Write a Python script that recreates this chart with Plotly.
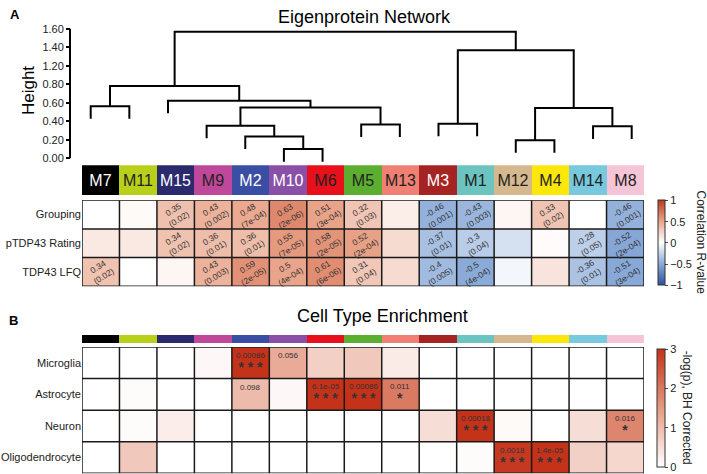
import numpy as np
import plotly.graph_objects as go

W, H = 707, 474
FONT = "Liberation Sans, Arial, sans-serif"

# ---- data ----
modules = ["M7", "M11", "M15", "M9", "M2", "M10", "M6", "M5", "M13",
           "M3", "M1", "M12", "M4", "M14", "M8"]
module_colors = ["#000000", "#b9d01b", "#2b2a6e", "#c0489a", "#3a4fa4", "#8a50a8",
                 "#e8101a", "#5bae2f", "#f07f74", "#a52423", "#6cc4c0", "#d6b88e",
                 "#fde70a", "#78c8de", "#f5c4d6"]
module_text_colors = ["white", "#222", "white", "#222", "white", "white", "#222", "#222",
                      "#222", "white", "#222", "#222", "#222", "#222", "#222"]

# dendrogram merges: (child, child, height); ints refer to earlier merges
merges = [
    ("M10", "M6", 0.114),   # 0
    ("M2", 0, 0.269),       # 1
    ("M9", 1, 0.403),       # 2
    ("M5", "M13", 0.419),   # 3
    (2, 3, 0.627),          # 4
    ("M15", 4, 0.712),      # 5
    ("M7", "M11", 0.643),   # 6
    (6, 5, 0.892),          # 7
    ("M3", "M1", 0.427),    # 8
    ("M12", "M4", 0.224),   # 9
    ("M14", "M8", 0.395),   # 10
    (9, 10, 0.623),         # 11
    (8, 11, 1.335),         # 12
    (7, 12, 1.563),         # 13
]
height_ticktext = ["0.00", "0.20", "0.40", "0.60", "0.80", "1.20", "1.40", "1.60"]

trait_rows = ["Grouping", "pTDP43 Rating", "TDP43 LFQ"]
grouping_r = [0.0, 0.03, 0.35, 0.43, 0.48, 0.63, 0.51, 0.32, 0.1, -0.46, -0.43, 0.05, 0.33, 0.0, -0.46]
grouping_p = [None, None, "0.02", "0.002", "7e-04", "2e-06", "3e-04", "0.03", None,
              "0.001", "0.003", None, "0.02", None, "0.001"]
ptdp_r = [0.12, 0.12, 0.34, 0.36, 0.36, 0.55, 0.58, 0.52, 0.2, -0.37, -0.3, -0.18, 0.02, -0.28, -0.52]
ptdp_p = [None, None, "0.02", "0.01", "0.01", "7e-05", "2e-05", "2e-04", None,
          "0.01", "0.04", None, None, "0.05", "2e-04"]
lfq_r = [0.34, 0.0, 0.05, 0.43, 0.59, 0.5, 0.61, 0.31, 0.2, -0.4, -0.5, -0.05, 0.15, -0.36, -0.51]
lfq_p = ["0.02", None, None, "0.003", "2e-05", "4e-04", "6e-06", "0.04", None,
         "0.005", "4e-04", None, None, "0.01", "3e-04"]

cell_rows = ["Microglia", "Astrocyte", "Neuron", "Oligodendrocyte"]
microglia = [0, 0, 0, 0.1, 3.0, 1.25, 0.7, 0.8, 0.3, 0, 0, 0, 0, 0, 0]
astrocyte = [0, 0.05, 0, 0, 1.01, 0.1, 3.0, 3.0, 1.96, 0, 0, 0, 0, 0, 0]
neuron = [0, 0.05, 0.25, 0, 0, 0, 0, 0, 0, 0.5, 3.0, 0.08, 0, 0.5, 1.8]
oligo = [0, 0.8, 0, 0, 0, 0, 0, 0, 0, 0, 0.05, 2.9, 3.0, 0.7, 0.6]
microglia_p = {"M2": ("0.00086", "***"), "M10": ("0.056", "")}
astrocyte_p = {"M2": ("0.098", ""), "M6": ("6.1e-05", "***"), "M5": ("0.00086", "***"),
               "M13": ("0.011", "*")}
neuron_p = {"M1": ("0.00018", "***"), "M8": ("0.016", "*")}
oligo_p = {"M12": ("0.0018", "***"), "M4": ("1.4e-05", "***")}


def fx(px):
    return px / W


def fy(py):
    return 1 - py / H


def font(size, color="#222"):
    return dict(size=size, color=color, family=FONT)


# ---- dendrogram segments ----
hang = 0.155
leaf_x = {m: i for i, m in enumerate(modules)}
node_x, node_h = [], []
dx, dy = [], []
for a, b, h in merges:
    pts = []
    for c in (a, b):
        if isinstance(c, str):
            pts.append((leaf_x[c], h - hang))
        else:
            pts.append((node_x[c], node_h[c]))
    (x1, y1), (x2, y2) = pts
    dx += [x1, x1, x2, x2, None]
    dy += [y1, h, h, y2, None]
    node_x.append((x1 + x2) / 2)
    node_h.append(h)

fig = go.Figure()
fig.add_trace(go.Scatter(x=dx, y=dy, mode="lines", line=dict(color="black", width=2),
                         xaxis="x", yaxis="y", hoverinfo="skip"))

idx = list(range(len(modules)))
fig.add_trace(go.Bar(x=idx, y=[1] * len(modules), width=1, marker=dict(color=module_colors, line_width=0),
                     text=modules, textposition="inside", insidetextanchor="middle", textangle=0,
                     textfont=dict(color=module_text_colors, size=16, family=FONT),
                     xaxis="x2", yaxis="y2", hoverinfo="skip"))

scale_a = [[0, "#2a52a0"], [0.25, "#8aaad8"], [0.5, "#ffffff"], [0.75, "#e9a58b"], [1, "#c0381a"]]
fig.add_trace(go.Heatmap(z=[grouping_r, ptdp_r, lfq_r], x=idx, y=[0, 1, 2], zmin=-1, zmax=1,
                         colorscale=scale_a, xaxis="x3", yaxis="y3", hoverinfo="skip",
                         colorbar=dict(x=fx(658), xanchor="left", y=fy(240.5), yanchor="middle",
                                       len=86 / H, thickness=7, xpad=0, ypad=0,
                                       outlinewidth=1, outlinecolor="#333",
                                       tickvals=[-1, -0.5, 0, 0.5, 1],
                                       ticktext=["\u22121", "\u22120.5", "0", "0.5", "1"],
                                       ticks="outside", ticklen=3, tickfont=font(11))))

fig.add_trace(go.Bar(x=idx, y=[1] * len(modules), width=1, marker=dict(color=module_colors, line_width=0),
                     xaxis="x4", yaxis="y4", hoverinfo="skip"))

scale_b = [[0, "#ffffff"], [0.5, "#e59a82"], [1, "#c4321a"]]
fig.add_trace(go.Heatmap(z=[microglia, astrocyte, neuron, oligo], x=idx, y=[0, 1, 2, 3], zmin=0, zmax=3,
                         colorscale=scale_b, xaxis="x5", yaxis="y5", hoverinfo="skip",
                         colorbar=dict(x=fx(657), xanchor="left", y=fy(407.5), yanchor="middle",
                                       len=119 / H, thickness=8, xpad=0, ypad=0,
                                       outlinewidth=1, outlinecolor="#333",
                                       tickvals=[0, 1, 2, 3], ticks="outside", ticklen=3,
                                       tickfont=font(11))))

# ---- grid lines ----
shapes = []
for xa, ya, nrow in (("x3", "y3", 3), ("x5", "y5", 4)):
    for i in range(len(modules) + 1):
        shapes.append(dict(type="line", xref=xa, yref=ya, x0=i - 0.5, x1=i - 0.5, y0=-0.5, y1=nrow - 0.5,
                           line=dict(color="#1a1a1a", width=1.5)))
    for j in range(nrow + 1):
        shapes.append(dict(type="line", xref=xa, yref=ya, x0=-0.5, x1=len(modules) - 0.5, y0=j - 0.5,
                           y1=j - 0.5, line=dict(color="#1a1a1a", width=1.5)))
# dendrogram axis line between 0 and 1.6
shapes.append(dict(type="line", xref="paper", yref="y", x0=fx(70), x1=fx(70), y0=0, y1=1.6,
                   line=dict(color="black", width=2)))

# ---- annotations ----
ann = []
for row, (rs, ps) in enumerate(((grouping_r, grouping_p), (ptdp_r, ptdp_p), (lfq_r, lfq_p))):
    for i, (r, p) in enumerate(zip(rs, ps)):
        if p is None:
            continue
        ann.append(dict(x=i, y=row, xref="x3", yref="y3", text=f"{r:g}<br>({p})", showarrow=False,
                        textangle=-32, font=font(8.5, "#333")))
for row, pmap in enumerate((microglia_p, astrocyte_p, neuron_p, oligo_p)):
    for m, (ptxt, stars) in pmap.items():
        i = modules.index(m)
        if stars:
            txt = (f"<span style='font-size:8px'>{ptxt}</span><br>"
                   f"<span style='font-size:14px'><b>{' '.join(stars)}</b></span>")
            ann.append(dict(x=i, y=row, xref="x5", yref="y5", text=txt, showarrow=False, yshift=0,
                            font=font(11, "#333")))
        else:
            ann.append(dict(x=i, y=row, xref="x5", yref="y5", text=ptxt, showarrow=False, yshift=7,
                            font=font(8, "#333")))


def label(px, py, text, size, angle=0, color="black"):
    return dict(x=fx(px), y=fy(py), xref="paper", yref="paper", text=text, showarrow=False,
                xanchor="center", yanchor="middle", textangle=angle, font=font(size, color))


ann += [
    label(15, 10, "<b>A</b>", 13),
    label(13, 319, "<b>B</b>", 13),
    label(364, 12, "Eigenprotein Network", 18),
    label(382, 314, "Cell Type Enrichment", 18),
    label(28, 87, "Height", 17, angle=-90),
    label(701, 240, "Correlation R-value", 12, angle=90, color="#222"),
    label(687, 407, "-log(p), BH Corrected", 12, angle=90, color="#222"),
]

xdom = [fx(82), fx(644)]
leaf_step = 38.64
hidden = dict(visible=False, showgrid=False, zeroline=False)
fig.update_layout(
    width=W, height=H, margin=dict(l=0, r=0, t=0, b=0),
    paper_bgcolor="white", plot_bgcolor="white",
    font=font(11),
    showlegend=False, bargap=0,
    xaxis=dict(domain=xdom, range=[-(90.7 - 82) / leaf_step, 14 + (644 - 631.7) / leaf_step],
               anchor="y", **hidden),
    yaxis=dict(domain=[fy(160.7), fy(22.4)], range=[-0.07, 1.62], anchor="free", position=fx(70),
               showline=False, showgrid=False, zeroline=False, ticks="outside", ticklen=4, tickwidth=1.5,
               tickcolor="black", tickvals=list(np.linspace(0, 1.6, 8)), ticktext=height_ticktext,
               tickfont=font(11)),
    xaxis2=dict(domain=xdom, range=[-0.5, 14.5], anchor="y2", **hidden),
    yaxis2=dict(domain=[fy(192), fy(162)], range=[0, 1], anchor="x2", **hidden),
    xaxis3=dict(domain=xdom, range=[-0.5, 14.5], anchor="y3", **hidden),
    yaxis3=dict(domain=[fy(284.3), fy(197.3)], range=[2.5, -0.5], anchor="x3", showgrid=False,
                zeroline=False, tickvals=[0, 1, 2], ticktext=trait_rows, ticks="",
                tickfont=font(11)),
    xaxis4=dict(domain=xdom, range=[-0.5, 14.5], anchor="y4", **hidden),
    yaxis4=dict(domain=[fy(341.7), fy(333.3)], range=[0, 1], anchor="x4", **hidden),
    xaxis5=dict(domain=xdom, range=[-0.5, 14.5], anchor="y5", **hidden),
    yaxis5=dict(domain=[fy(473.3), fy(345.7)], range=[3.5, -0.5], anchor="x5", showgrid=False,
                zeroline=False, tickvals=[0, 1, 2, 3], ticktext=cell_rows, ticks="",
                tickfont=font(11)),
    shapes=shapes, annotations=ann,
)

# the page body has a default 8px margin; drop it so the figure fills the window
fig.write_html("out.html", config={"displayModeBar": False},
               post_script="document.body.style.margin='0';")
